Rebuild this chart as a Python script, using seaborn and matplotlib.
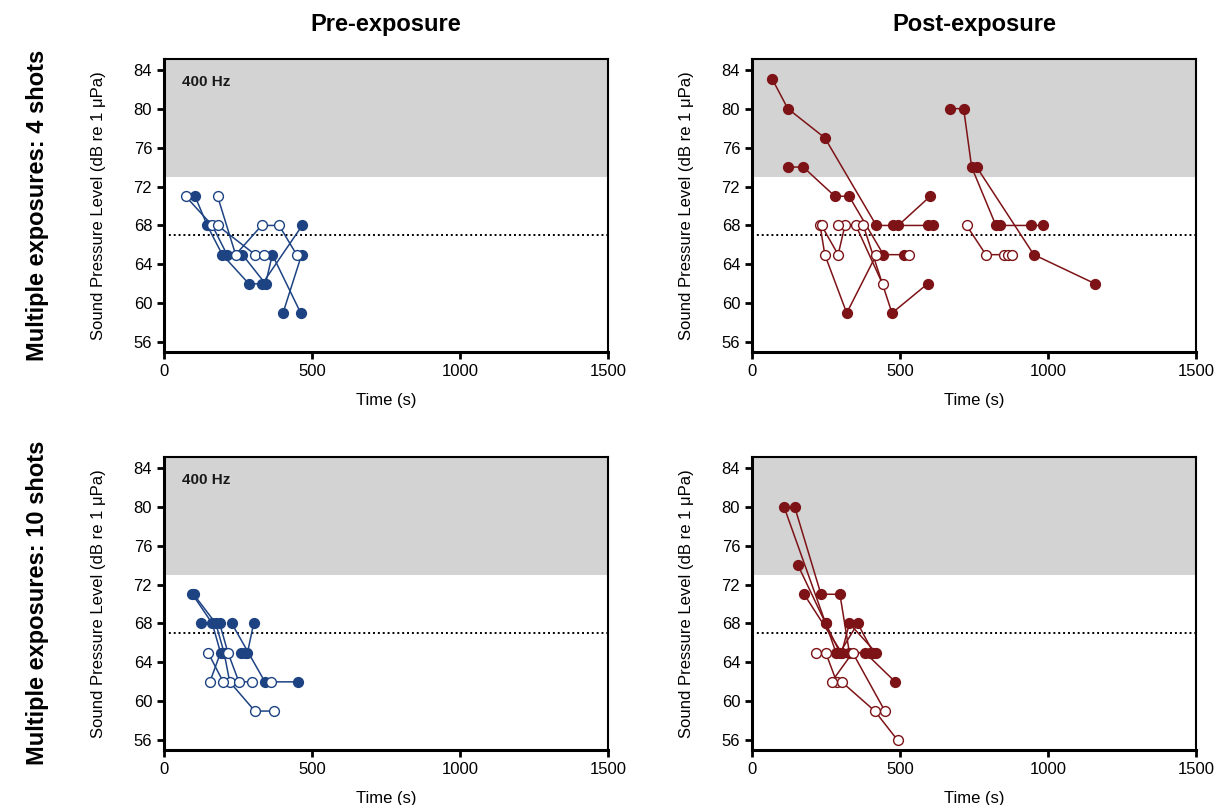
import matplotlib
matplotlib.use("Agg")
import matplotlib.pyplot as plt
import seaborn as sns
import numpy as np
import pandas as pd

# --- data: one list per track (time s, level dB, filled 1/0)
pre4_t = [[105, 146, 197, 287, 332, 467],
          [73, 163, 213, 265, 343, 366, 462],
          [181, 242, 330, 389, 448, 465, 402],
          [181, 308, 337]]
pre4_db = [[71, 68, 65, 62, 62, 68],
           [71, 68, 65, 65, 62, 65, 59],
           [71, 65, 68, 68, 65, 65, 59],
           [68, 65, 65]]
pre4_fill = [[1, 1, 1, 1, 1, 1],
             [0, 0, 1, 1, 1, 1, 1],
             [0, 0, 0, 0, 0, 1, 1],
             [0, 0, 0]]

post4_t = [[69, 121, 246, 420, 475, 593, 612],
           [494, 602],
           [123, 173, 280, 328, 444, 513, 529],
           [230, 246, 320, 420],
           [235, 291, 314, 351, 441],
           [292, 376, 473, 593],
           [669, 715, 742, 824, 838, 941, 984],
           [759, 952, 1160],
           [725, 790, 852, 866, 880]]
post4_db = [[83, 80, 77, 68, 68, 68, 68],
            [68, 71],
            [74, 74, 71, 71, 65, 65, 65],
            [68, 65, 59, 65],
            [68, 65, 68, 68, 62],
            [68, 68, 59, 62],
            [80, 80, 74, 68, 68, 68, 68],
            [74, 65, 62],
            [68, 65, 65, 65, 65]]
post4_fill = [[1, 1, 1, 1, 1, 1, 1],
              [1, 1],
              [1, 1, 1, 1, 1, 1, 0],
              [0, 0, 1, 0],
              [0, 0, 0, 0, 0],
              [0, 0, 1, 1],
              [1, 1, 1, 1, 1, 1, 1],
              [1, 1, 1],
              [0, 0, 0, 0, 0]]

pre10_t = [[96, 163, 191, 155],
           [100, 175, 203, 222, 307, 373],
           [126, 188, 216, 253, 298],
           [149, 200],
           [229, 341, 361, 454],
           [303, 282, 274, 259]]
pre10_db = [[71, 68, 65, 62],
            [71, 68, 65, 62, 59, 59],
            [68, 68, 65, 62, 62],
            [65, 62],
            [68, 62, 62, 62],
            [68, 65, 65, 65]]
pre10_fill = [[1, 1, 1, 0],
              [1, 1, 1, 0, 0, 0],
              [1, 1, 0, 0, 0],
              [0, 0],
              [1, 1, 0, 1],
              [1, 1, 1, 1]]

post10_t = [[108, 249, 284, 382, 484],
            [144, 233, 297, 329, 399],
            [155, 249, 297, 357, 410],
            [176, 303, 329, 419],
            [216, 249, 286, 303, 415, 492],
            [269, 340, 449]]
post10_db = [[80, 68, 65, 65, 62],
             [80, 71, 71, 65, 65],
             [74, 68, 65, 68, 65],
             [71, 65, 68, 65],
             [65, 65, 62, 62, 59, 56],
             [62, 65, 59]]
post10_fill = [[1, 1, 1, 1, 1],
               [1, 1, 1, 1, 1],
               [1, 1, 1, 1, 1],
               [1, 1, 1, 1],
               [0, 0, 0, 0, 0, 0],
               [0, 0, 0]]

col_titles = ["Pre-exposure", "Post-exposure"]
row_titles = ["Multiple exposures: 4 shots", "Multiple exposures: 10 shots"]
y_ticks = [56, 60, 64, 68, 72, 76, 80, 84]
x_ticks = [0, 500, 1000, 1500]
threshold = 67
gray_from = 73

blue = "#1d4383"
red = "#7d1316"

sns.set_style("ticks", {"axes.edgecolor": "black", "text.color": "black",
                        "axes.labelcolor": "black", "xtick.color": "black",
                        "ytick.color": "black"})
plt.rcParams["font.family"] = ["Liberation Sans", "DejaVu Sans"]


def to_frame(ts, dbs, fills):
    rows = []
    for k, (t, d, f) in enumerate(zip(ts, dbs, fills)):
        for i in range(len(t)):
            rows.append({"t": t[i], "db": d[i], "filled": f[i], "track": k})
    return pd.DataFrame(rows)


def draw_panel(ax, ts, dbs, fills, color, tag=None):
    ax.axhspan(gray_from, 85.2, color="#d3d3d3", zorder=0, lw=0)
    ax.axhline(threshold, color="black", ls=(0, (1, 1.5)), lw=1.4, zorder=1)
    df = to_frame(ts, dbs, fills)
    sns.lineplot(data=df, x="t", y="db", units="track", estimator=None,
                 sort=False, color=color, lw=1.1, ax=ax, legend=False, zorder=2)
    sns.scatterplot(data=df[df.filled == 1], x="t", y="db", color=color,
                    edgecolor=color, s=50, linewidth=1, ax=ax, legend=False, zorder=3)
    sns.scatterplot(data=df[df.filled == 0], x="t", y="db", color="white",
                    edgecolor=color, s=50, linewidth=1, ax=ax, legend=False, zorder=4)
    ax.set_xlim(0, 1500)
    ax.set_ylim(55, 85.1)
    ax.set_xticks(x_ticks)
    ax.set_yticks(y_ticks)
    ax.set_xlabel("Time (s)", fontsize=12, labelpad=10)
    ax.set_ylabel("Sound Pressure Level (dB re 1 μPa)", fontsize=12, labelpad=20)
    ax.tick_params(labelsize=12, width=2, length=5, colors="black")
    for s in ["left", "bottom"]:
        ax.spines[s].set_linewidth(2.2)
    for s in ["top", "right"]:
        ax.spines[s].set_linewidth(1.5)
    if tag:
        ax.text(0.04, 0.92, tag, transform=ax.transAxes, fontsize=11,
                fontweight="bold", va="center", color="#1a1a1a")


fig = plt.figure(figsize=(12.15, 8.05), dpi=100)
W, H = 1215, 805
lefts = [164, 752]
tops = [59, 457]
axes = {}
for r in range(2):
    for c in range(2):
        axes[(r, c)] = fig.add_axes([lefts[c] / W, 1 - (tops[r] + 293) / H, 444 / W, 293 / H])

draw_panel(axes[(0, 0)], pre4_t, pre4_db, pre4_fill, blue, "400 Hz")
draw_panel(axes[(0, 1)], post4_t, post4_db, post4_fill, red)
draw_panel(axes[(1, 0)], pre10_t, pre10_db, pre10_fill, blue, "400 Hz")
draw_panel(axes[(1, 1)], post10_t, post10_db, post10_fill, red)

for c in range(2):
    fig.text((lefts[c] + 222) / W, 1 - 25 / H, col_titles[c], ha="center",
             va="center", fontsize=17, fontweight="bold")
for r in range(2):
    fig.text(38 / W, 1 - (tops[r] + 146) / H, row_titles[r], ha="center",
             va="center", rotation=90, fontsize=17, fontweight="bold")

fig.savefig("out.png", dpi=100)
